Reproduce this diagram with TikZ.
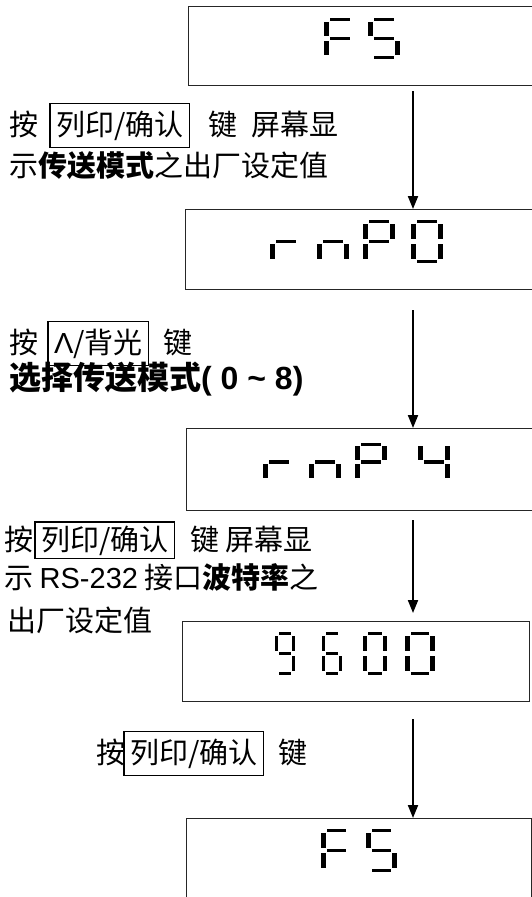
\documentclass[tikz,border=0pt]{standalone}
\usepackage{fontspec}
\setmainfont{Noto Sans CJK SC}
\newfontfamily\arial{Liberation Sans}
\usetikzlibrary{arrows.meta,positioning}

% segments of a seven-segment digit, unit box, y downwards
\newcommand{\lcdsega}{(0.19,0) rectangle (0.81,0.075)}
\newcommand{\lcdsegb}{(0.84,0.09) rectangle (1,0.44)}
\newcommand{\lcdsegc}{(0.84,0.56) rectangle (1,0.91)}
\newcommand{\lcdsegd}{(0.19,0.925) rectangle (0.81,1)}
\newcommand{\lcdsege}{(0,0.56) rectangle (0.16,0.91)}
\newcommand{\lcdsegf}{(0,0.09) rectangle (0.16,0.44)}
\newcommand{\lcdsegg}{(0.19,0.46) rectangle (0.81,0.54)}
\newcommand{\lcdchar}[4]{%
  \begin{scope}[shift={#1},x=#2pt,y=-#3pt]
    \foreach \s in {#4} {\expandafter\fill\csname lcdseg\s\endcsname;}
  \end{scope}}

\begin{document}
\begin{tikzpicture}[
  x=1pt, y=-1pt,
  font=\fontsize{29}{40}\selectfont,
  lcd/.style={
    draw=black!85,
    line width=1.2pt,
    anchor=north west,
    inner sep=0pt,
  },
  txt/.style={
    anchor=base west,
    inner sep=0pt,
  },
  keybox/.style={
    draw,
    line width=1.2pt,
    anchor=base west,
    inner xsep=6pt,
    inner ysep=7pt,
  },
  flow/.style={
    -{Triangle[width=10pt,length=13pt]},
    line width=2pt,
  }
]
\useasboundingbox (0,0) rectangle (532,897);

% display windows
\node[lcd, minimum width=360pt, minimum height=79pt] (fs) at (188,6) {};
\node[lcd, minimum width=360pt, minimum height=80pt] (rnpa) at (185,209) {};
\node[lcd, minimum width=360pt, minimum height=82pt] (rnpb) at (186,428) {};
\node[lcd, minimum width=347pt, minimum height=80pt] (baud) at (182,621) {};
\node[lcd, minimum width=345pt, minimum height=100pt] (fsend) at (186,818) {};

% readouts
\lcdchar{(324,18)}{32}{41}{a,e,f,g}
\lcdchar{(368,18)}{32}{41}{a,c,d,f,g}
\lcdchar{(270,220)}{32}{43}{e,g}
\lcdchar{(317,220)}{32}{43}{c,e,g}
\lcdchar{(363,220)}{32}{43}{a,b,e,f,g}
\lcdchar{(411,220)}{32}{43}{a,b,c,d,e,f}
\lcdchar{(263,443)}{32}{38}{e,g}
\lcdchar{(309,443)}{32}{38}{c,e,g}
\lcdchar{(355,443)}{32}{38}{a,b,e,f,g}
\lcdchar{(418,443)}{32}{38}{b,c,f,g}
\lcdchar{(275,632)}{20}{43}{a,b,c,d,f,g}
\lcdchar{(322,632)}{20}{43}{a,c,d,e,f,g}
\lcdchar{(363,632)}{24}{43}{a,b,c,d,e,f}
\lcdchar{(405,632)}{30}{43}{a,b,c,d,e,f}
\lcdchar{(321,829)}{31}{43}{a,e,f,g}
\lcdchar{(366,829)}{31}{43}{a,c,d,f,g}

% arrows
\coordinate (axis) at (413,0);
\draw[flow, shorten <=5pt] (fs.south -| axis) -- (rnpa.north -| axis);
\draw[flow, shorten <=20pt] (rnpa.south -| axis) -- (rnpb.north -| axis);
\draw[flow, shorten <=9pt, shorten >=8pt] (rnpb.south -| axis) -- (baud.north -| axis);
\draw[flow, shorten <=17pt] (baud.south -| axis) -- (fsend.north -| axis);

% step 1
\node[txt] (press1) at (9,135) {按};
\node[keybox] (key1) at ([xshift=11pt]press1.base east) {列印/确认};
\node[txt] (show1) at ([xshift=18pt]key1.base east) {键\enspace 屏幕显};
\node[txt] (mode1) at (9,176) {示\textbf{传送模式}之出厂设定值};

% step 2
\node[txt] (press2) at (9,353) {按};
\node[keybox] (key2) at ([xshift=9pt]press2.base east) {{\arial Λ}/背光};
\node[txt] (show2) at ([xshift=14pt]key2.base east) {键};
\node[txt, font=\fontsize{32}{40}\selectfont] (mode2) at (9,389)
  {\textbf{选择传送模式{\arial( 0 \textasciitilde{} 8)}}};

% step 3
\node[txt] (press3) at (4,550) {按};
\node[keybox, inner ysep=3.5pt] (key3) at ([xshift=1pt]press3.base east) {列印/确认};
\node[txt] (show3) at ([xshift=15pt]key3.base east) {键 屏幕显};
\node[txt] (baud3) at (4,588) {示 {\arial RS-232} 接口\textbf{波特率}之};
\node[txt] (fact3) at (7,631) {出厂设定值};

% step 4
\node[txt] (press4) at (96,763) {按};
\node[keybox] (key4) at ([xshift=-2pt]press4.base east) {列印/确认};
\node[txt] (show4) at ([xshift=14pt]key4.base east) {键};
\end{tikzpicture}
\end{document}
